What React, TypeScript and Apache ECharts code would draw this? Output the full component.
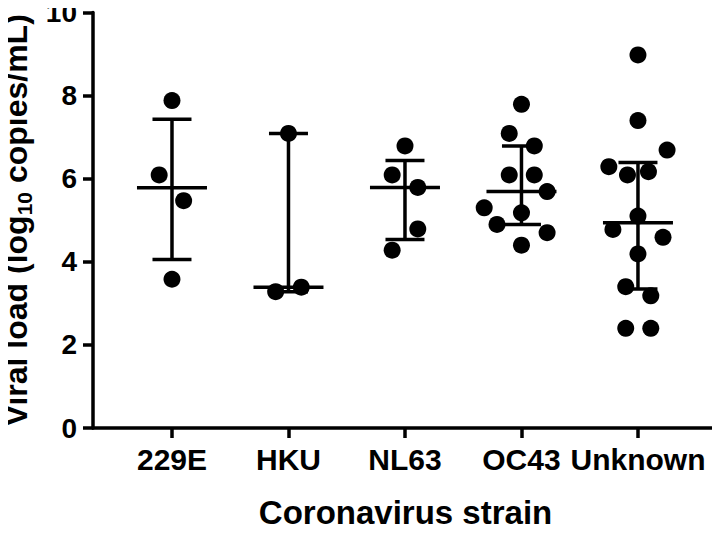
import React, { useEffect, useRef } from "react";
import * as echarts from "echarts";

const categories = ["229E", "HKU", "NL63", "OC43", "Unknown"];

// Viral load values (log10 copies/mL) per strain
const values229E = [7.88, 6.09, 5.47, 3.58];
const valuesHKU = [7.09, 3.28, 3.39];
const valuesNL63 = [6.79, 6.09, 5.79, 4.79, 4.28];
const valuesOC43 = [7.79, 7.09, 6.79, 6.09, 6.09, 5.69, 5.3, 5.18, 4.9, 4.7, 4.4];
const valuesUnknown = [8.98, 7.4, 6.69, 6.29, 6.09, 6.17, 5.1, 4.78, 4.59, 4.19, 3.4, 3.18, 2.4, 2.4];

// Horizontal scatter offsets (in category units) of each dot, as drawn
const jitter229E = [0, -0.11, 0.1, 0];
const jitterHKU = [0, -0.11, 0.11];
const jitterNL63 = [0, -0.11, 0.11, 0.11, -0.11];
const jitterOC43 = [0, -0.105, 0.11, -0.105, 0.11, 0.22, -0.32, 0, -0.21, 0.22, 0];
const jitterUnknown = [0, 0, 0.25, -0.25, -0.09, 0.09, 0, -0.215, 0.215, 0, -0.105, 0.11, -0.105, 0.11];

const yTicks = [0, 2, 4, 6, 8, 10];

const groups = [values229E, valuesHKU, valuesNL63, valuesOC43, valuesUnknown];
const jitters = [jitter229E, jitterHKU, jitterNL63, jitterOC43, jitterUnknown];

function quantile(vals: number[], p: number): number {
  const s = [...vals].sort((a, b) => a - b);
  const n = s.length;
  const pos = p * (n + 1);
  if (pos <= 1) return s[0];
  if (pos >= n) return s[n - 1];
  const lo = Math.floor(pos);
  const frac = pos - lo;
  return s[lo - 1] + frac * (s[lo] - s[lo - 1]);
}

const FONT = "'Liberation Sans', Arial, Helvetica, sans-serif";

export default function App() {
  const ref = useRef<HTMLDivElement>(null);

  useEffect(() => {
    if (!ref.current) return;
    const chart = echarts.init(ref.current, null, { renderer: "svg" });

    const points: number[][] = [];
    groups.forEach((g, i) => {
      g.forEach((v, j) => points.push([i + jitters[i][j], v]));
    });
    const stats = groups.map((g, i) => [i, quantile(g, 0.5), quantile(g, 0.25), quantile(g, 0.75)]);

    const option: any = {
      animation: false,
      backgroundColor: "#ffffff",
      grid: { left: 93, right: 2, top: 12.5, bottom: 105, containLabel: false, outerBoundsMode: "none" },
      xAxis: {
        type: "value",
        min: -0.678,
        max: 4.687,
        name: "Coronavirus strain",
        nameLocation: "middle",
        nameGap: 67,
        nameTextStyle: { fontSize: 33, fontWeight: "bold", color: "#000", fontFamily: FONT, lineHeight: 34 },
        axisLine: { show: true, onZero: false, lineStyle: { color: "#000", width: 3.5 } },
        axisTick: {
          show: true,
          length: 10,
          lineStyle: { color: "#000", width: 3.5 },
          customValues: [0, 1, 2, 3, 4],
        },
        axisLabel: {
          show: true,
          margin: 16,
          fontSize: 30,
          fontWeight: "bold",
          color: "#000",
          fontFamily: FONT,
          customValues: [0, 1, 2, 3, 4],
          formatter: (v: number) => categories[Math.round(v)] ?? "",
        },
        splitLine: { show: false },
      },
      yAxis: {
        type: "value",
        min: 0,
        max: 10,
        interval: 2,
        name: "{b|Viral load (log}{s|10}{b| copies/mL)}",
        nameLocation: "middle",
        nameGap: 54,
        nameRotate: 90,
        nameTextStyle: {
          color: "#000",
          rich: {
            b: { fontSize: 32, fontWeight: "bold", color: "#000", fontFamily: FONT, lineHeight: 34 },
            s: { fontSize: 21, fontWeight: "bold", color: "#000", fontFamily: FONT, verticalAlign: "bottom", lineHeight: 38 },
          },
        },
        axisLine: { show: true, onZero: false, lineStyle: { color: "#000", width: 3.5 } },
        axisTick: { show: true, length: 10, lineStyle: { color: "#000", width: 3.5 } },
        axisLabel: {
          margin: 16,
          fontSize: 28,
          lineHeight: 24,
          fontWeight: "bold",
          color: "#000",
          fontFamily: FONT,
          formatter: (v: number) => (yTicks.includes(v) ? String(v) : ""),
        },
        splitLine: { show: false },
      },
      series: [
        {
          type: "custom",
          data: stats,
          z: 2,
          renderItem: (params: any, api: any) => {
            const x = api.value(0);
            const med = api.coord([x, api.value(1)]);
            const lo = api.coord([x, api.value(2)]);
            const hi = api.coord([x, api.value(3)]);
            const style = { stroke: "#000", lineWidth: 3.5, fill: null };
            const capHalf = 19.5;
            const medHalf = 35;
            return {
              type: "group",
              children: [
                { type: "line", shape: { x1: med[0], y1: hi[1], x2: med[0], y2: lo[1] }, style },
                { type: "line", shape: { x1: med[0] - capHalf, y1: hi[1], x2: med[0] + capHalf, y2: hi[1] }, style },
                { type: "line", shape: { x1: med[0] - capHalf, y1: lo[1], x2: med[0] + capHalf, y2: lo[1] }, style },
                { type: "line", shape: { x1: med[0] - medHalf, y1: med[1], x2: med[0] + medHalf, y2: med[1] }, style },
              ],
            };
          },
        },
        {
          type: "scatter",
          data: points,
          symbol: "circle",
          symbolSize: 17,
          z: 3,
          itemStyle: { color: "#000", opacity: 1 },
        },
      ],
    };

    chart.setOption(option);
    return () => chart.dispose();
  }, []);

  return <div ref={ref} style={{ width: 720, height: 533, margin: -8 }} />;
}
